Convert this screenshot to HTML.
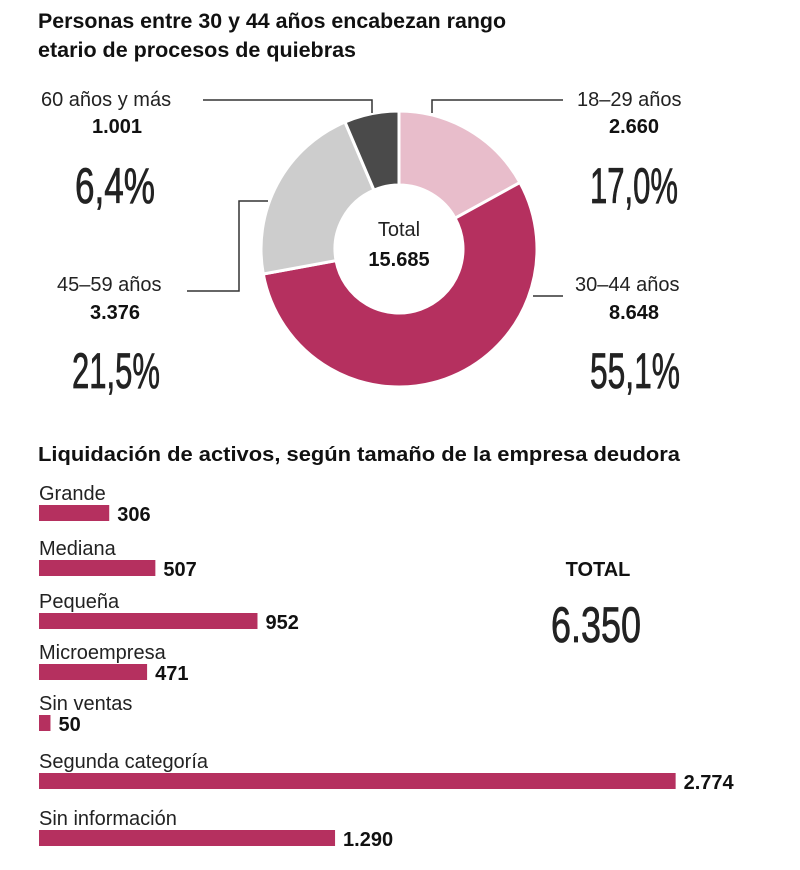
<!DOCTYPE html>
<html><head><meta charset="utf-8"><style>
body{margin:0;background:#fff;width:800px;height:865px;overflow:hidden}
svg text{font-family:"Liberation Sans",sans-serif}
.big{font-size:50px;fill:#222;stroke:#222;stroke-width:0.8}
</style></head><body>
<svg width="800" height="865" viewBox="0 0 800 865" xmlns="http://www.w3.org/2000/svg">
<text x="38" y="28" font-size="21" font-weight="bold" fill="#111" textLength="468" lengthAdjust="spacingAndGlyphs">Personas entre 30 y 44 años encabezan rango</text>
<text x="38" y="57" font-size="21" font-weight="bold" fill="#111" textLength="318" lengthAdjust="spacingAndGlyphs">etario de procesos de quiebras</text>
<g id="donut"></g>
<circle cx="399" cy="249" r="64" fill="#fff"/>
<text x="399" y="236" font-size="20" text-anchor="middle" fill="#222">Total</text>
<text x="399" y="266" font-size="20" font-weight="bold" text-anchor="middle" fill="#111">15.685</text>
<g stroke="#333" stroke-width="1.5" fill="none">
<polyline points="203,100 372,100 372,113"/>
<polyline points="187,291 239,291 239,201 268,201"/>
<polyline points="563,100 432,100 432,113"/>
<polyline points="563,296 533,296"/>
</g>
<g font-size="20" fill="#222">
<text x="41" y="106">60 años y más</text>
<text x="117" y="133" text-anchor="middle" font-weight="bold" fill="#111">1.001</text>
<text x="57" y="291">45–59 años</text>
<text x="115" y="319" text-anchor="middle" font-weight="bold" fill="#111">3.376</text>
<text x="577" y="106">18–29 años</text>
<text x="634" y="133" text-anchor="middle" font-weight="bold" fill="#111">2.660</text>
<text x="575" y="291">30–44 años</text>
<text x="634" y="319" text-anchor="middle" font-weight="bold" fill="#111">8.648</text>
</g>
<text class="big" x="75" y="203" textLength="80" lengthAdjust="spacingAndGlyphs">6,4%</text>
<text class="big" x="72" y="388" textLength="88" lengthAdjust="spacingAndGlyphs">21,5%</text>
<text class="big" x="590" y="203" textLength="88" lengthAdjust="spacingAndGlyphs">17,0%</text>
<text class="big" x="590" y="388" textLength="90" lengthAdjust="spacingAndGlyphs">55,1%</text>
<text x="38" y="461" font-size="20" font-weight="bold" fill="#111" textLength="642" lengthAdjust="spacingAndGlyphs">Liquidación de activos, según  tamaño de la empresa deudora</text>
<g id="bars" font-size="20"></g>
<text x="598" y="576" font-size="20" font-weight="bold" text-anchor="middle" fill="#111">TOTAL</text>
<text class="big" x="596" y="642" text-anchor="middle" textLength="90" lengthAdjust="spacingAndGlyphs">6.350</text>
</svg>
<script>
var NS="http://www.w3.org/2000/svg";
var cx=399,cy=249,R=138,r=64;
var vals=[17.0,55.1,21.5,6.4],cols=["#e8bdcb","#b5305f","#cdcdcd","#4a4a4a"];
var a=0,g=document.getElementById("donut");
function pt(rad,ang){return [cx+rad*Math.sin(ang),cy-rad*Math.cos(ang)];}
vals.forEach(function(v,i){var a0=a,a1=a+v/100*2*Math.PI;a=a1;
var p0=pt(R,a0),p1=pt(R,a1),q1=pt(r,a1),q0=pt(r,a0),lg=(a1-a0)>Math.PI?1:0;
var p=document.createElementNS(NS,"path");
p.setAttribute("d","M"+p0+"A"+R+","+R+" 0 "+lg+" 1 "+p1+"L"+q1+"A"+r+","+r+" 0 "+lg+" 0 "+q0+"Z");
p.setAttribute("fill",cols[i]);p.setAttribute("stroke","#fff");p.setAttribute("stroke-width","3");g.appendChild(p);});
var bars=[["Grande",306,505],["Mediana",507,560],["Pequeña",952,613],["Microempresa",471,664],["Sin ventas",50,715],["Segunda categoría",2774,773],["Sin información",1290,830]];
var b=document.getElementById("bars");
bars.forEach(function(d){var w=d[1]*0.2295;
var t=document.createElementNS(NS,"text");t.setAttribute("x",39);t.setAttribute("y",d[2]-5);t.setAttribute("fill","#222");t.textContent=d[0];b.appendChild(t);
var rc=document.createElementNS(NS,"rect");rc.setAttribute("x",39);rc.setAttribute("y",d[2]);rc.setAttribute("width",w);rc.setAttribute("height",16);rc.setAttribute("fill","#b5305f");b.appendChild(rc);
var v=document.createElementNS(NS,"text");v.setAttribute("x",39+w+8);v.setAttribute("y",d[2]+16);v.setAttribute("font-weight","bold");v.setAttribute("fill","#111");
v.textContent=String(d[1]).replace(/\B(?=(\d{3})+$)/g,".");b.appendChild(v);});
</script>
</body></html>
